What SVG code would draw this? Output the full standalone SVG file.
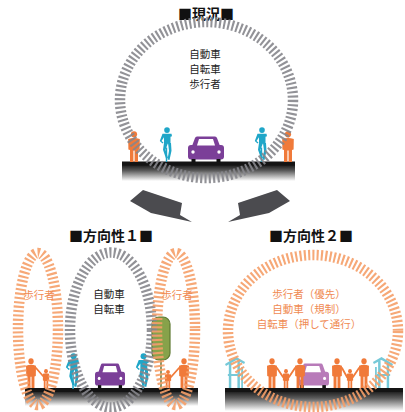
<svg xmlns="http://www.w3.org/2000/svg" xmlns:xlink="http://www.w3.org/1999/xlink" width="405" height="412" viewBox="0 0 405 412">
  <style>
    .title { font-family: "Noto Sans CJK JP", "Noto Sans", sans-serif; font-size: 14px; font-weight: bold; fill: #111; text-anchor: middle; }
    .lbl { font-family: "Noto Sans CJK JP", "Noto Sans", sans-serif; font-size: 10.5px; fill: #222; text-anchor: middle; }
    .lbl-o { font-family: "Noto Sans CJK JP", "Noto Sans", sans-serif; font-size: 10.5px; fill: #f08a52; text-anchor: middle; }
    .ring-g { fill: none; stroke: #86868c; stroke-width: 10.5; stroke-dasharray: 2.1 2.2; opacity: 0.9; }
    .ring-o { fill: none; stroke: #f59e68; stroke-width: 10.5; stroke-dasharray: 2.1 2.2; opacity: 0.9; }
    .bar { fill: #141414; }
    .orange { fill: #f07a3a; }
    .blue { fill: #1fa6c8; }
    .arm { stroke: #f07a3a; stroke-width: 1.8; stroke-linecap: round; }
    .shelter { fill: #76c9d8; }
    .arrow { fill: #4b4b4f; }
  </style>
  <defs>
    <linearGradient id="roadFade" x1="0" y1="0" x2="0" y2="1">
      <stop offset="0" stop-color="#1a1a1a"/>
      <stop offset="0.35" stop-color="#5a5a5a"/>
      <stop offset="1" stop-color="#ffffff"/>
    </linearGradient>
    <!-- standing adult -->
    <symbol id="adult" viewBox="0 0 14 31" preserveAspectRatio="none">
      <circle cx="7" cy="3.3" r="3.1"/>
      <path d="M1.2,8 Q7,6 12.8,8 L12.6,18.5 L11,19 L11,31 H7.6 V19.5 H6.4 V31 H3 V19 L1.4,18.5 Z"/>
    </symbol>
    <!-- child -->
    <symbol id="child" viewBox="0 0 9 20" preserveAspectRatio="none">
      <circle cx="4.5" cy="2.3" r="2.2"/>
      <path d="M1,5 Q4.5,4 8,5 L8,12 L7,12.3 V20 H5 V12.5 H4 V20 H2 V12.3 L1,12 Z"/>
    </symbol>
    <!-- cyclist, front view -->
    <symbol id="cyclist" viewBox="0 0 14 34" preserveAspectRatio="none">
      <circle cx="8" cy="3" r="2.8"/>
      <path d="M3.5,6.5 H12.5 L13,9 L11.5,9.5 L11.5,16 L5,16 L5,10 L2.5,13.5 L4.5,15 L3.5,16 L0.8,13.5 Z"/>
      <path d="M5,15.5 L9,15.5 L6.5,22 L9,30 L7,30.5 L4,22 Z"/>
      <path d="M9,15.5 L12,15.5 L12.5,23 L10.5,32 L8.5,31.5 L10,23 Z"/>
      <rect x="6.8" y="20" width="1.4" height="14"/>
    </symbol>
    <!-- car, front view -->
    <symbol id="car" viewBox="0 0 36 26" preserveAspectRatio="none">
      <path d="M9,0.5 H27 Q28.5,0.5 29,2 L32,10 H4 L7,2 Q7.5,0.5 9,0.5 Z"/>
      <rect x="0" y="9" width="36" height="14.5" rx="3"/>
      <path d="M11,3 H25 L27,9.5 H9 Z" fill="#fff"/>
      <circle cx="5" cy="16" r="1.7" fill="#fff"/>
      <circle cx="31" cy="16" r="1.7" fill="#fff"/>
      <rect x="3.5" y="23" width="4" height="3" fill="#111"/>
      <rect x="28.5" y="23" width="4" height="3" fill="#111"/>
    </symbol>
    <!-- bus stop shelter -->
    <symbol id="shelter" viewBox="0 0 22 31" preserveAspectRatio="none">
      <path d="M0,7 L12,0 L21,5 L20,7 L12,3 L1,9 Z"/>
      <rect x="4" y="6" width="2.6" height="25"/>
      <rect x="13" y="4" width="2.6" height="27"/>
      <rect x="3" y="17" width="14" height="2"/>
      <rect x="17" y="10" width="1.8" height="21"/>
    </symbol>
  </defs>

  <!-- titles -->
  <text class="title" x="206" y="19">■現況■</text>
  <text class="title" x="111" y="241">■方向性１■</text>
  <text class="title" x="311" y="241">■方向性２■</text>

  <!-- roads -->
  <g id="roads">
    <rect x="122" y="165" width="173" height="16" fill="url(#roadFade)"/>
    <rect class="bar" x="122" y="161.5" width="173" height="4"/>
    <rect x="25" y="391" width="173" height="15" fill="url(#roadFade)"/>
    <rect class="bar" x="25" y="388" width="173" height="4"/>
    <rect x="225" y="391" width="178" height="20" fill="url(#roadFade)"/>
    <rect class="bar" x="225" y="388" width="178" height="4"/>
  </g>

  <!-- current state: figures -->
  <g id="now-figures">
    <use href="#adult" class="orange" x="127" y="131" width="14" height="31"/>
    <use href="#adult" class="orange" x="281" y="131" width="14" height="31"/>
    <use href="#cyclist" class="blue" x="159" y="127" width="14" height="35"/>
    <use href="#cyclist" class="blue" x="254" y="127" width="14" height="35"/>
    <use href="#car" fill="#7b3f98" x="188" y="136" width="36" height="26"/>
  </g>

  <!-- direction 1: figures -->
  <g id="d1-figures">
    <g id="tree">
      <line x1="161" y1="355" x2="161" y2="390" stroke="#6f8048" stroke-width="1.6"/>
      <rect x="152" y="317" width="18" height="43" rx="7" fill="#87a24a" stroke="#5f7a33" stroke-width="1.2"/>
    </g>
    <use href="#adult" class="orange" x="25" y="358" width="12" height="30"/>
    <use href="#child" class="orange" x="42" y="369" width="8" height="19"/>
    <line class="arm" x1="36" y1="368" x2="43" y2="376"/>
    <use href="#child" class="orange" x="164" y="370" width="8" height="18"/>
    <use href="#adult" class="orange" x="178" y="358" width="12" height="30"/>
    <line class="arm" x1="171" y1="377" x2="179" y2="368"/>
    <use href="#cyclist" class="blue" x="65" y="353" width="15" height="36"/>
    <use href="#cyclist" class="blue" x="135" y="353" width="15" height="36"/>
    <use href="#car" fill="#7b3f98" x="95" y="363" width="30" height="25"/>
  </g>

  <!-- direction 2: figures -->
  <g id="d2-figures">
    <use href="#shelter" class="shelter" x="225" y="357" width="21" height="31"/>
    <use href="#shelter" class="shelter" x="-393" y="357" width="21" height="31" transform="scale(-1,1)"/>
    <use href="#car" fill="#b87bb9" x="297" y="363" width="32" height="25"/>
    <line class="arm" x1="277" y1="368" x2="283" y2="377"/>
    <line class="arm" x1="289" y1="377" x2="295" y2="368"/>
    <line class="arm" x1="342" y1="368" x2="347" y2="377"/>
    <line class="arm" x1="353" y1="377" x2="359" y2="368"/>
    <use href="#adult" class="orange" x="266" y="358" width="12" height="30"/>
    <use href="#child" class="orange" x="282" y="369" width="8" height="19"/>
    <use href="#adult" class="orange" x="294" y="358" width="12" height="30"/>
    <use href="#adult" class="orange" x="331" y="358" width="12" height="30"/>
    <use href="#child" class="orange" x="346" y="369" width="8" height="19"/>
    <use href="#adult" class="orange" x="358" y="358" width="12" height="30"/>
  </g>

  <!-- space rings -->
  <g id="rings">
    <ellipse id="ring-now" class="ring-g" cx="206.5" cy="100" rx="86.5" ry="78"/>
    <ellipse id="ring-d1-walk-l" class="ring-o" cx="38" cy="329" rx="20" ry="76"/>
    <ellipse id="ring-d1-road" class="ring-g" cx="111" cy="330" rx="41" ry="77.5"/>
    <ellipse id="ring-d1-walk-r" class="ring-o" cx="176" cy="329" rx="19" ry="76"/>
    <ellipse id="ring-d2" class="ring-o" cx="313" cy="331" rx="85" ry="76"/>
  </g>

  <!-- connectors -->
  <g id="connectors">
    <path class="arrow" d="M130,201 L143,190 L182,203 L180,215 L192,222 L151,213 Z"/>
    <path class="arrow" d="M290,201 L277,190 L238,203 L240,215 L228,222 L269,213 Z"/>
  </g>

  <!-- labels -->
  <g id="now-labels">
    <text class="lbl" x="205" y="58">自動車</text>
    <text class="lbl" x="205" y="73.2">自転車</text>
    <text class="lbl" x="205" y="88.4">歩行者</text>
  </g>
  <g id="d1-labels">
    <text class="lbl-o" x="39" y="299">歩行者</text>
    <text class="lbl" x="109" y="298">自動車</text>
    <text class="lbl" x="109" y="313.2">自転車</text>
    <text class="lbl-o" x="177" y="299">歩行者</text>
  </g>
  <g id="d2-labels">
    <text class="lbl-o" x="309" y="298">歩行者（優先）</text>
    <text class="lbl-o" x="309" y="313.2">自動車（規制）</text>
    <text class="lbl-o" x="309" y="328.4">自転車（押して通行）</text>
  </g>
</svg>
